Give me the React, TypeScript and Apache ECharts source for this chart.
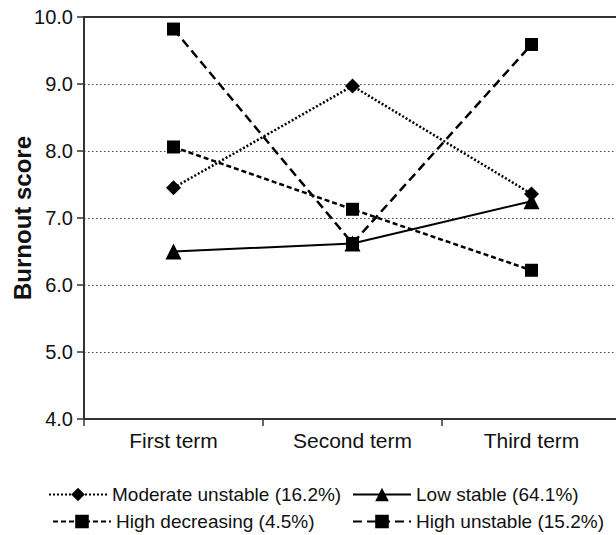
import React, { useEffect, useRef } from "react";
import * as echarts from "echarts";

const categories = ["First term", "Second term", "Third term"];
const moderateUnstable = [7.45, 8.97, 7.36];
const lowStable = [6.5, 6.62, 7.25];
const highDecreasing = [8.06, 7.13, 6.22];
const highUnstable = [9.82, 6.62, 9.59];
const seriesNames = [
  "Moderate unstable (16.2%)",
  "Low stable (64.1%)",
  "High decreasing (4.5%)",
  "High unstable (15.2%)",
];

const FONT = "'Liberation Sans', Arial, sans-serif";

export default function App() {
  const ref = useRef<HTMLDivElement>(null);
  useEffect(() => {
    if (!ref.current) return;
    const chart = echarts.init(ref.current, null, { renderer: "svg" });
    const legendBase = {
      orient: "horizontal",
      itemWidth: 58,
      itemHeight: 17,
      itemGap: 6,
      textStyle: { fontFamily: FONT, fontSize: 19, color: "#111" },
      padding: 0,
    };
    chart.setOption({
      animation: false,
      backgroundColor: "#fff",
      grid: {
        left: 84,
        top: 17,
        bottom: 116,
        width: 537,
        containLabel: false,
        outerBoundsMode: "none",
      },
      legend: [
        { ...legendBase, data: [seriesNames[0]], left: 48, top: 485 },
        { ...legendBase, data: [seriesNames[1]], left: 352, top: 485 },
        { ...legendBase, data: [seriesNames[2]], left: 52, top: 512 },
        { ...legendBase, data: [seriesNames[3]], left: 352, top: 512 },
      ],
      xAxis: [
        {
          type: "category",
          data: categories,
          boundaryGap: true,
          axisLine: { lineStyle: { color: "#333", width: 2 } },
          axisTick: { show: true, length: 7, lineStyle: { color: "#333", width: 1.5 } },
          axisLabel: { fontFamily: FONT, fontSize: 21, color: "#111", margin: 11 },
          splitLine: { show: false },
        },
        {
          type: "category",
          data: categories,
          position: "top",
          axisLine: { lineStyle: { color: "#333", width: 2 } },
          axisTick: { show: false },
          axisLabel: { show: false },
        },
      ],
      yAxis: {
        type: "value",
        min: 4,
        max: 10,
        interval: 1,
        name: "Burnout score",
        nameLocation: "middle",
        nameGap: 50,
        nameMoveOverlap: false,
        nameTextStyle: { fontFamily: FONT, fontSize: 24, fontWeight: "bold", color: "#111" },
        axisLine: { show: true, lineStyle: { color: "#333", width: 2 } },
        axisTick: { show: true, length: 7, lineStyle: { color: "#333", width: 1.5 } },
        axisLabel: {
          fontFamily: FONT,
          fontSize: 20,
          color: "#111",
          margin: 11,
          formatter: (v: number) => v.toFixed(1),
        },
        splitLine: { show: true, lineStyle: { color: "#444", type: [1.5, 2.5], width: 1.2 } },
      },
      series: [
        {
          name: seriesNames[0],
          type: "line",
          data: moderateUnstable,
          symbol: "diamond",
          symbolSize: 15,
          itemStyle: { color: "#000" },
          lineStyle: { color: "#000", width: 2.5, type: [2, 2] },
        },
        {
          name: seriesNames[1],
          type: "line",
          data: lowStable,
          symbol: "triangle",
          symbolSize: 16,
          itemStyle: { color: "#000" },
          lineStyle: { color: "#000", width: 2, type: "solid" },
        },
        {
          name: seriesNames[2],
          type: "line",
          data: highDecreasing,
          symbol: "rect",
          symbolSize: 13,
          itemStyle: { color: "#000" },
          lineStyle: { color: "#000", width: 2.5, type: [5, 3] },
        },
        {
          name: seriesNames[3],
          type: "line",
          data: highUnstable,
          symbol: "rect",
          symbolSize: 13,
          itemStyle: { color: "#000" },
          lineStyle: { color: "#000", width: 2.5, type: [9, 5] },
        },
      ],
    });
    return () => chart.dispose();
  }, []);
  return (
    <div
      ref={ref}
      style={{ position: "fixed", left: 0, top: 0, width: 616, height: 535, background: "#fff" }}
    />
  );
}
